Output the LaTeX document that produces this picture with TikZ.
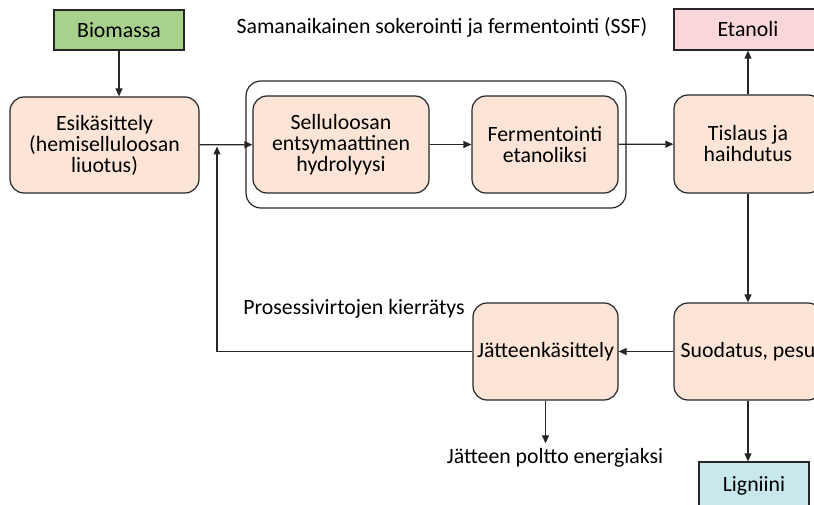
\documentclass[tikz,border=0pt]{standalone}
\usepackage{fontspec}
\setmainfont{Carlito}
\usetikzlibrary{arrows.meta}

\definecolor{biogreen}{HTML}{A9D18E}
\definecolor{procpeach}{HTML}{FCE4D6}
\definecolor{etapink}{HTML}{F9D6D9}
\definecolor{ligblue}{HTML}{C9E8EC}
\definecolor{linegray}{HTML}{262626}

\tikzset{
  vaihe/.style={draw=linegray, line width=1.2pt, fill=procpeach, rounded corners=14pt, align=center, inner sep=1pt},
  tuote/.style={draw=linegray, line width=1.2pt, align=center, inner sep=1pt},
  virta/.style={draw=linegray, line width=1.2pt, -{Triangle[length=8pt,width=7pt]}},
}

\begin{document}
\begin{tikzpicture}[x=1pt,y=-1pt,font=\fontsize{21.8}{21}\selectfont]
\useasboundingbox (0,0) rectangle (814,505);
\clip (0,0) rectangle (814,505);

% SSF frame
\node[draw=linegray, line width=1.2pt, rounded corners=15pt, minimum width=380pt, minimum height=127pt] (ssf) at (436,144.5) {};
\node[] (ssftxt) at (442,27) {Samanaikainen sokerointi ja fermentointi (SSF)};

% products
\node[tuote, fill=biogreen, minimum width=130pt, minimum height=40pt] (bio) at (119,30) {Biomassa};
\node[tuote, fill=etapink, minimum width=148pt, minimum height=41pt] (eta) at (748,29.5) {Etanoli};
\node[tuote, fill=ligblue, minimum width=110pt, minimum height=48pt] (lig) at (754,486) {Ligniini};

% process steps
\node[vaihe, minimum width=189pt, minimum height=96pt] (esi) at (104.5,145) {Esikäsittely\\(hemiselluloosan\\liuotus)};
\node[vaihe, minimum width=176pt, minimum height=97pt] (hyd) at (341,144.5) {Selluloosan\\entsymaattinen\\hydrolyysi};
\node[vaihe, minimum width=146pt, minimum height=97pt] (fer) at (545,144.5) {Fermentointi\\etanoliksi};
\node[vaihe, minimum width=148pt, minimum height=98pt] (tis) at (748,144) {Tislaus ja\\haihdutus};
\node[vaihe, minimum width=148pt, minimum height=97pt] (suo) at (748,351.5) {Suodatus, pesu};
\node[vaihe, minimum width=145pt, minimum height=97pt] (jat) at (545.5,351.5) {Jätteenkäsittely};

% free texts
\node[] (kierto) at (354,309) {Prosessivirtojen kierrätys};
\node[inner sep=5pt] (ene) at (555,458) {Jätteen poltto energiaksi};
\coordinate (paluu) at (217,146.5);

% flows
\draw[virta] (bio.south) -- (bio.south |- esi.north);
\draw[virta] (esi) -- (hyd);
\draw[virta] (hyd) -- (fer);
\draw[virta] (fer) -- (tis);
\draw[virta] (tis) -- (eta);
\draw[virta] (tis) -- (suo);
\draw[virta] (suo) -- (jat);
\draw[virta] (jat.west) -| (paluu);
\draw[virta] (jat.south) -- (jat.south |- ene.north);
\draw[virta] (suo.south) -- (suo.south |- lig.north);
\end{tikzpicture}
\end{document}
